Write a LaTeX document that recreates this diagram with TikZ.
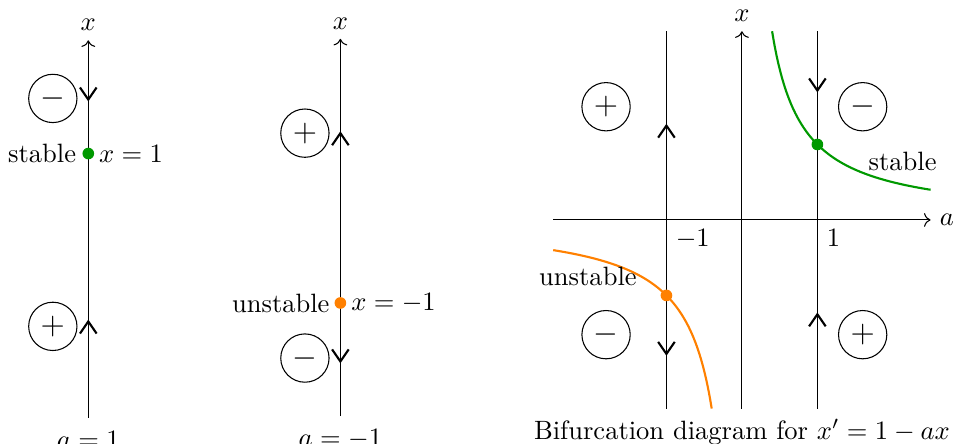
\documentclass[tikz,border=0pt]{standalone}
\usepackage{amsmath, amssymb}
\usepackage{xcolor}
\usepackage{tikz}
\usetikzlibrary{arrows.meta,decorations.markings,positioning}

\begin{document}
\begin{tikzpicture}[
    sign/.style = {draw, circle, minimum size=0.64cm, inner sep=0pt, font=\large},
    fixed/.style = {circle, fill=#1, minimum size=4.4pt, inner sep=0pt},
    flow/.style 2 args = {postaction={decorate}, decoration={markings,
        mark=at position #1 with {\arrow{Straight Barb[length=1.6mm, width=2.2mm, line width=0.8pt]}},
        mark=at position #2 with {\arrowreversed{Straight Barb[length=1.6mm, width=2.2mm, line width=0.8pt]}}}},
    branch/.style = {thick, samples=80, smooth},
    tag/.style = {below, yshift=-1.5pt}
]
    \useasboundingbox (-9.83,-2.967) rectangle (2.81,2.914);

    % a = 1
    \begin{scope}[shift={(-8.66,-0.12)}]
        \draw[->, flow={0.26}{0.838}] (0,-2.5) -- (0,2.5) node[above] (x1) {$x$};
        \node[tag] (a1) at (0,-2.5) {$a=1$};
        \node[fixed=green!60!black, label={[inner sep=2pt]left:stable}, label={[inner sep=1.5pt]right:$x=1$}] (s1) at (0,1) {};
        \node[sign] (n1) at (-0.47,1.73) {$-$};
        \node[sign] (p1) at (-0.47,-1.29) {$+$};
    \end{scope}

    % a = -1
    \begin{scope}[shift={(-5.32,-0.1)}]
        \draw[->, flow={0.755}{0.14}] (0,-2.5) -- (0,2.5) node[above] (x2) {$x$};
        \node[tag] (a2) at (0,-2.5) {$a=-1$};
        \node[fixed=orange, label={[inner sep=1.5pt]left:unstable}, label={[inner sep=1.5pt]right:$x=-1$}] (u2) at (0,-1) {};
        \node[sign] (p2) at (-0.47,1.25) {$+$};
        \node[sign] (n2) at (-0.47,-1.73) {$-$};
    \end{scope}

    % bifurcation diagram
    \draw[->] (-2.5,0) -- (2.5,0) node[right] (ax) {$a$};
    \draw[->] (0,-2.5) -- (0,2.5) node[above] (xx) {$x$};
    \draw[flow={0.755}{0.14}] (-1,-2.5) -- (-1,2.5);
    \draw[flow={0.255}{0.838}] (1,-2.5) -- (1,2.5);
    \draw[branch, green!60!black, domain=0.4:2.5] plot (\x,{1/\x});
    \draw[branch, orange, domain=-2.5:-0.4] plot (\x,{1/\x});
    \node[fixed=green!60!black] (s3) at (1,1) {};
    \node[fixed=orange] (u3) at (-1,-1) {};
    \node[below right] (m3) at (-1,0) {$-1$};
    \node[below right] (o3) at (1,0) {$1$};
    \node (st) at (2.13,0.77) {stable};
    \node (un) at (-2.04,-0.75) {unstable};
    \node[sign] (p3) at (-1.8,1.5) {$+$};
    \node[sign] (n3) at (1.6,1.5) {$-$};
    \node[sign] (n4) at (-1.8,-1.52) {$-$};
    \node[sign] (p4) at (1.6,-1.52) {$+$};
    \node (cap) at (0,-2.81) {Bifurcation diagram for $x'=1-ax$};
\end{tikzpicture}
\end{document}
